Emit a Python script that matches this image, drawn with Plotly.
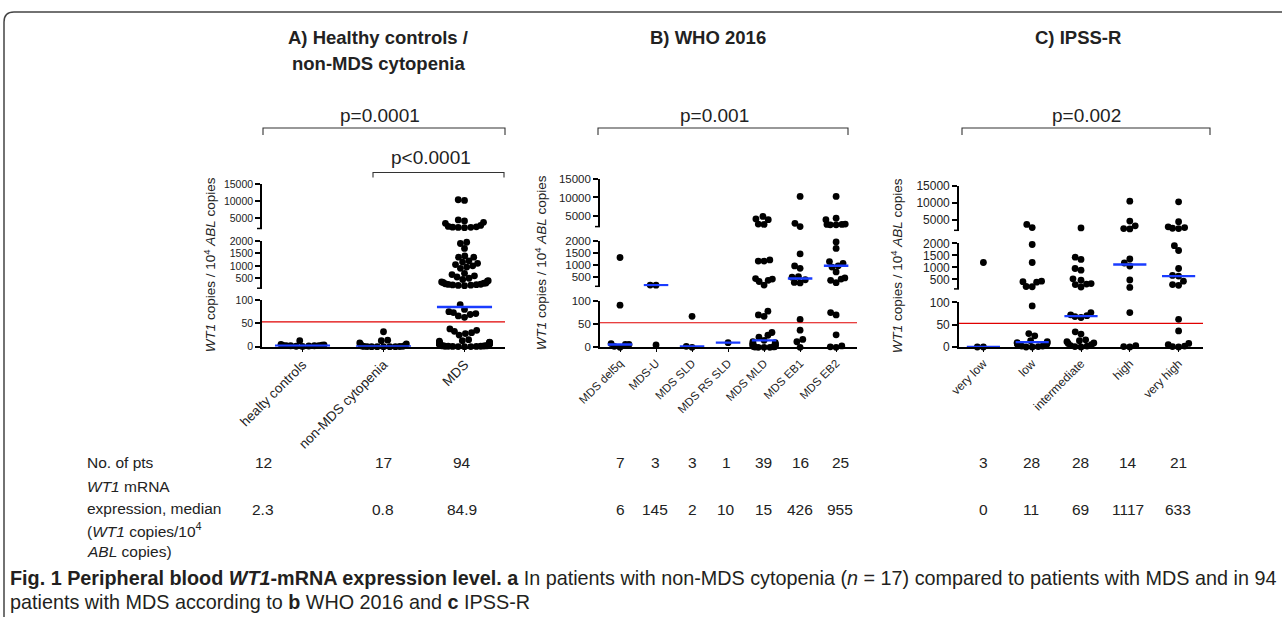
import numpy as np
import plotly.graph_objects as go

W, H = 1282, 617

# ------------------------------------------------------------------ data
A_CATS = ["healty controls", "non-MDS cytopenia", "MDS"]
A_HEALTHY = [13, 5, 4, 3.5, 3, 2.3, 2.3, 2, 2, 1.5, 1, 0.5]
A_NONMDS = [32, 14, 13, 8, 6, 5, 3, 1.5, 0.8, 0.6, 0.4, 0.2, 0, 0, 0, 0, 0]
A_MDS = [10400, 10200, 4500, 4200, 3800, 3500, 2900, 2600, 2500, 2400, 2350, 2300, 2250,
         1950, 1900, 1700, 1400, 1350, 1350, 1200, 1150, 1100, 1050, 1000, 950, 900, 700, 650,
         600, 550, 500, 450, 400, 380, 350, 330, 310, 300, 280, 260, 250, 240, 230, 220, 210, 200,
         90, 79.8, 75, 73, 71, 69, 66, 63, 38, 35, 33, 30, 28, 25,
         15, 13, 12, 10, 10, 9, 8, 8, 7, 7, 6, 6, 5, 5, 5, 4, 4, 4, 3, 3, 3, 2, 2, 2, 2,
         1.5, 1, 1, 1, 0.5, 0.5, 0.3, 0.2, 0]
A_N = [12, 17, 94]
A_MEDIANS = [2.3, 0.8, 84.9]
A_MEDIAN_TXT = ["2.3", "0.8", "84.9"]

B_CATS = ["MDS del5q", "MDS-U", "MDS SLD", "MDS RS SLD", "MDS MLD", "MDS EB1", "MDS EB2"]
B_DEL5Q = [1300, 91, 8, 6, 6, 2, 0]
B_MDSU = [150, 145, 5]
B_SLD = [67, 2, 0]
B_RSSLD = [10]
B_MLD = [4800, 4100, 3900, 2700, 2600, 1200, 1150, 1150, 420, 400, 350, 300, 150,
         78, 70, 67, 32, 26, 22, 15, 12, 10, 9, 8, 7, 6, 5, 5, 4, 3, 3, 2, 2, 1, 1, 0.5, 0, 0, 0]
B_EB1 = [10300, 2900, 2000, 1450, 950, 850, 500, 480, 372, 260, 240, 60, 37, 17, 12, 0]
B_EB2 = [10300, 4300, 3900, 2700, 2600, 2600, 2500, 2500, 1950, 1680, 1130, 1050, 955,
         900, 700, 450, 400, 350, 250, 75, 70, 27, 3, 1, 0]
B_N = [7, 3, 3, 1, 39, 16, 25]
B_MEDIANS = [6, 145, 2, 10, 15, 426, 955]

C_CATS = ["very low", "low", "intermediate", "high", "very high"]
C_VLOW = [1200, 0, 0]
C_LOW = [3700, 2800, 1950, 1200, 420, 400, 380, 200, 190, 92, 30, 25, 14, 12,
         10, 9, 8, 7, 6, 5, 5, 4, 3, 2, 2, 1, 0, 0]
C_INT = [2700, 1420, 1330, 950, 880, 520, 460, 320, 300, 280, 180, 77, 72, 70,
         68, 66, 34, 29, 16, 14, 12, 9, 8, 5, 3, 2, 1, 0]
C_HIGH = [10500, 4700, 3300, 2500, 2400, 1350, 1180, 1054, 470, 160, 77, 3, 1, 0]
C_VHIGH = [10300, 4500, 3000, 2800, 2600, 2500, 1900, 1700, 950, 660, 633, 420, 280, 250,
           62, 36, 8, 5, 2, 1, 0]
C_N = [3, 28, 28, 14, 21]
C_MEDIANS = [0, 11, 69, 1117, 633]

THRESHOLD = 53
SEG_RANGES = [(0, 100), (100, 2000), (2000, 15000)]
SEG_TICKS = [[0, 50, 100], [500, 1000, 1500, 2000], [5000, 10000, 15000]]
P_TEXTS = ["p=0.0001", "p<0.0001", "p=0.001", "p=0.002"]

# ------------------------------------------------------------------ layout geometry (pixels)
SANS = "Liberation Sans, Arial"
INK = "#222222"

PANELS = [
    dict(key="A", cats=A_CATS, groups=[A_HEALTHY, A_NONMDS, A_MDS], medians=A_MEDIANS,
         x0=262, x1=505, xr=(-0.5, 2.5),
         segs=[(346.7, 300.0), (288.2, 241.0), (228.5, 184.0)],
         ytick_font=dict(family=SANS, size=10.5, color=INK),
         xtick_font=dict(family=SANS, size=13.5, color=INK), ytitle_x=210),
    dict(key="B", cats=B_CATS, groups=[B_DEL5Q, B_MDSU, B_SLD, B_RSSLD, B_MLD, B_EB1, B_EB2],
         medians=B_MEDIANS, x0=600, x1=857, xr=(-0.556, 6.58),
         segs=[(347.3, 301.0), (286.3, 240.7), (226.6, 179.3)],
         ytick_font=dict(family=SANS, size=11.5, color=INK),
         xtick_font=dict(family=SANS, size=11.5, color=INK), ytitle_x=541),
    dict(key="C", cats=C_CATS, groups=[C_VLOW, C_LOW, C_INT, C_HIGH, C_VHIGH],
         medians=C_MEDIANS, x0=959, x1=1203, xr=(-0.5, 4.5),
         segs=[(347.0, 302.3), (288.9, 243.3), (230.3, 185.7)],
         ytick_font=dict(family=SANS, size=12, color=INK),
         xtick_font=dict(family=SANS, size=12, color=INK), ytitle_x=897),
]


def px(x):
    return x / W


def py(y):
    return 1 - y / H


def seg_of(v):
    if v < SEG_RANGES[0][1]:
        return 0
    if v < SEG_RANGES[1][1]:
        return 1
    return 2


def value_to_pixel(panel, v):
    s = seg_of(v)
    lo, hi = SEG_RANGES[s]
    p_lo, p_hi = panel["segs"][s]
    return p_lo + (v - lo) / (hi - lo) * (p_hi - p_lo)


def swarm(pys, d):
    xs = np.zeros(len(pys))
    placed = []
    for i in np.argsort(pys)[::-1]:
        y = pys[i]
        iv = []
        for xj, yj in placed:
            dy = abs(y - yj)
            if dy < d:
                w = np.sqrt(d * d - dy * dy)
                iv.append((xj - w, xj + w))
        cands = [0.0] + [a for a, b in iv] + [b for a, b in iv]
        cands.sort(key=lambda c: (abs(c), c))
        for c in cands:
            if all(not (a + 1e-6 < c < b - 1e-6) for a, b in iv):
                xs[i] = c
                break
        placed.append((xs[i], y))
    return xs


fig = go.Figure()
shapes = []
annotations = []
MARKER_D = 6.8

for pi, panel in enumerate(PANELS):
    xname = "x" if pi == 0 else f"x{pi + 1}"
    ynames = [("y" if pi * 3 + k == 0 else f"y{pi * 3 + k + 1}") for k in range(3)]
    spacing = (panel["x1"] - panel["x0"]) / (panel["xr"][1] - panel["xr"][0])
    maxw = 0.31 * spacing

    seg_x = [[], [], []]
    seg_y = [[], [], []]
    for ci, vals in enumerate(panel["groups"]):
        vals = np.array(vals, dtype=float)
        pys = np.array([value_to_pixel(panel, v) for v in vals])
        offs = swarm(pys, MARKER_D * 0.95)
        offs = np.sign(offs) * maxw * np.tanh(np.abs(offs) / maxw)
        for v, o in zip(vals, offs):
            s = seg_of(v)
            seg_x[s].append(ci + o / spacing)
            seg_y[s].append(v)
    for s in range(3):
        fig.add_trace(go.Scatter(x=seg_x[s], y=seg_y[s], mode="markers", xaxis=xname,
                                 yaxis=ynames[s], cliponaxis=False, hoverinfo="skip",
                                 marker=dict(color="black", size=MARKER_D, line=dict(width=0)),
                                 showlegend=False))
    # medians
    for ci, m in enumerate(panel["medians"]):
        s = seg_of(m)
        fig.add_trace(go.Scatter(x=[ci - 0.34, ci + 0.34], y=[m, m], mode="lines",
                                 xaxis=xname, yaxis=ynames[s], cliponaxis=False,
                                 line=dict(color="#1a3cff", width=2.4), hoverinfo="skip",
                                 showlegend=False))
    # threshold
    shapes.append(dict(type="line", xref=f"{xname} domain", yref=ynames[0], x0=0, x1=1,
                       y0=THRESHOLD, y1=THRESHOLD, line=dict(color="#e00000", width=1.2)))

    # axes
    xl = "xaxis" if pi == 0 else f"xaxis{pi + 1}"
    fig.layout[xl] = dict(domain=[px(panel["x0"]), px(panel["x1"])], range=list(panel["xr"]),
                          anchor=ynames[0], tickmode="array", automargin=False,
                          tickvals=list(range(len(panel["cats"]))), ticktext=panel["cats"],
                          tickangle=-45, ticks="outside", ticklen=3, tickwidth=1.3,
                          tickcolor="black", showline=True, linecolor="black", linewidth=1.6,
                          showgrid=False, zeroline=False, tickfont=panel["xtick_font"])
    for s in range(3):
        yl = "yaxis" if pi * 3 + s == 0 else f"yaxis{pi * 3 + s + 1}"
        p_lo, p_hi = panel["segs"][s]
        fig.layout[yl] = dict(domain=[py(p_lo), py(p_hi)], range=list(SEG_RANGES[s]),
                              anchor=xname, tickmode="array", tickvals=SEG_TICKS[s],
                              ticktext=[str(t) for t in SEG_TICKS[s]], automargin=False,
                              ticks="outside", ticklen=5,
                              tickwidth=1.5, tickcolor="black", showline=True,
                              linecolor="black", linewidth=1.6, showgrid=False,
                              zeroline=False, tickfont=panel["ytick_font"])
        if s > 0:
            # small closing tick at the lower end of a broken segment
            shapes.append(dict(type="line", xref="paper", yref="paper",
                               x0=px(panel["x0"] - 5), x1=px(panel["x0"]),
                               y0=py(p_lo), y1=py(p_lo), line=dict(color="black", width=1.5)))
    # y-axis title
    ymid = (panel["segs"][0][0] + panel["segs"][2][1]) / 2
    annotations.append(dict(x=px(panel["ytitle_x"]), y=py(ymid), xref="paper", yref="paper",
                            text="<i>WT1</i> copies / 10<sup>4</sup> <i>ABL</i> copies",
                            textangle=-90, showarrow=False, xanchor="center",
                            yanchor="middle",
                            font=dict(family=SANS, size=13.5, color=INK)))


def text(x, y, t, size, family=SANS, xanchor="center", color=INK):
    annotations.append(dict(x=px(x), y=py(y), xref="paper", yref="paper", text=t,
                            showarrow=False, xanchor=xanchor, yanchor="middle",
                            font=dict(family=family, size=size, color=color)))


# panel titles
TITLE = 18.5
text(378, 37, "<b>A) Healthy controls /</b>", TITLE)
text(378, 63, "<b>non-MDS cytopenia</b>", TITLE)
text(708, 37, "<b>B) WHO 2016</b>", TITLE)
text(1078, 37, "<b>C) IPSS-R</b>", TITLE)

# significance brackets
def bracket(x0, x1, y, drop):
    shapes.append(dict(type="path", xref="paper", yref="paper",
                       path=f"M {px(x0)},{py(y + drop)} L {px(x0)},{py(y)} L {px(x1)},{py(y)} L {px(x1)},{py(y + drop)}",
                       line=dict(color="#333333", width=1.1)))

bracket(263, 505, 128, 7)
bracket(373, 504, 172.5, 5)
bracket(598, 848, 128, 7)
bracket(962, 1210, 128, 7)
PSZ = 19
text(380, 115, P_TEXTS[0], PSZ)
text(431, 157, P_TEXTS[1], PSZ)
text(714, 115, P_TEXTS[2], PSZ)
text(1086, 115, P_TEXTS[3], PSZ)

# table
TAB = 15.5
text(85, 462, "No. of pts", TAB, xanchor="left")
text(85, 487, "<i>WT1</i> mRNA", TAB, xanchor="left")
text(85, 508, "expression, median", TAB, xanchor="left")
text(85, 530, "(<i>WT1</i> copies/10<sup>4</sup>", TAB, xanchor="left")
text(85, 551, "<i>ABL</i> copies)", TAB, xanchor="left")
A_TX = [263, 383, 462]
for x, n, m in zip(A_TX, A_N, A_MEDIAN_TXT):
    text(x, 462, str(n), TAB)
    text(x, 509, m, TAB)
B_TX = [620, 655, 692, 726, 763, 800, 840]
for x, n, m in zip(B_TX, B_N, B_MEDIANS):
    text(x, 462, str(n), TAB)
    text(x, 509, str(m), TAB)
C_TX = [983, 1031, 1080, 1128, 1178]
for x, n, m in zip(C_TX, C_N, C_MEDIANS):
    text(x, 462, str(n), TAB)
    text(x, 509, str(m), TAB)

# caption
CAP = 19.8
text(8, 578, "<b>Fig. 1 Peripheral blood <i>WT1</i>-mRNA expression level. a</b> In patients with "
     "non-MDS cytopenia (<i>n</i> = 17) compared to patients with MDS and in 94",
     CAP, xanchor="left", color="#231f20")
text(8, 602, "patients with MDS according to <b>b</b> WHO 2016 and <b>c</b> IPSS-R",
     CAP, xanchor="left", color="#231f20")

# outer rounded frame
shapes.append(dict(type="path", xref="paper", yref="paper",
                   path=f"M {px(4)},{py(617)} L {px(4)},{py(22)} Q {px(4)},{py(12)} {px(14)},{py(12)} L {px(1282)},{py(12)}",
                   line=dict(color="#444444", width=1.5)))

fig.update_layout(template="none", width=W, height=H,
                  margin=dict(l=0, r=0, t=0, b=0, pad=0, autoexpand=False),
                  paper_bgcolor="white", plot_bgcolor="rgba(0,0,0,0)",
                  shapes=shapes, annotations=annotations, showlegend=False)
fig.write_html("out.html", config={"displayModeBar": False},
               post_script="document.body.style.margin='0';document.body.style.overflow='hidden';")
